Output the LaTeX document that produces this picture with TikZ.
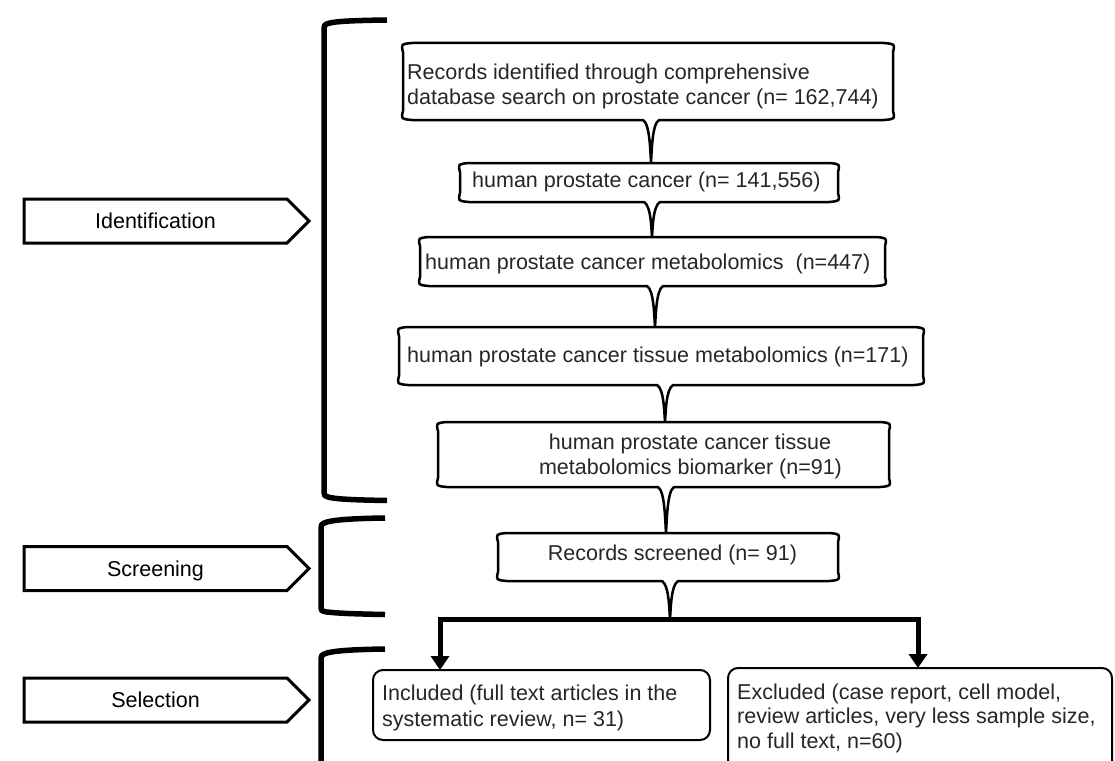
\documentclass[tikz,border=0pt]{standalone}
\usepackage{fontspec}
\setmainfont{Liberation Sans}
\usetikzlibrary{arrows.meta,shapes.symbols}
\newcommand\mycallout[6]{%
\draw[cbox] (#1,#2+9) .. controls (#1-2,#2+1) .. (#1+9,#2) -- (#3-9,#2) .. controls (#3+2,#2+1) .. (#3,#2+9) -- (#3,#4-9) .. controls (#3+2,#4-1) .. (#3-9,#4) -- (#5+8,#4) .. controls (#5+1,#4+4) and (#5+0.8,#6-10) .. (#5,#6) .. controls (#5-0.8,#6-10) and (#5-1,#4+4) .. (#5-8,#4) -- (#1+9,#4) .. controls (#1-2,#4-1) .. (#1,#4-9) -- cycle;}
\begin{document}
\begin{tikzpicture}[x=1pt,y=-1pt,
  cbox/.style={draw=black, line width=2.5pt, fill=white, line join=round},
  fbox/.style={draw=black, line width=2pt, rounded corners=10pt, fill=white},
  brk/.style={draw=black, line width=5.5pt, line cap=butt},
  lbl/.style={signal, signal to=east, signal from=nowhere, signal pointer angle=90,
    draw=black, line width=3pt, minimum width=285pt, minimum height=44pt, inner sep=0pt,
    font=\fontsize{21.5}{25}\selectfont, text height=15.5pt, text depth=0pt},
  txt/.style={inner sep=0pt, font=\fontsize{21.5}{25}\selectfont, text=black!85},
  flow/.style={draw=black, line width=5pt, -{Triangle[width=18pt,length=14pt]}}]
\useasboundingbox (0,0) rectangle (1115,760);
\fill[white] (0,0) rectangle (1115,760);
% brackets
\draw[brk] (387,20) .. controls (350,20.5) and (336,21.5) .. (330,23) .. controls (324,24.5) .. (324,33) -- (324,488) .. controls (324,496) .. (330,497.5) .. controls (340,499.5) and (360,500) .. (387,500.5);
\draw[brk] (385,518) .. controls (350,518.5) and (334,520) .. (327,522) .. controls (321,524) .. (321,532) -- (321,604) .. controls (321,611) .. (327,612) .. controls (340,613.5) and (360,614) .. (385,614.5);
\draw[brk] (385,649) .. controls (350,649.5) and (334,651) .. (327,653) .. controls (321,655) .. (321,663) -- (321,780);
% stage labels
\node[lbl] (ident) at (155.5,221) {Identification};
\node[lbl] (screen) at (155.5,568.5) {Screening};
\node[lbl] (select) at (155.5,700) {Selection};
% callout boxes
\mycallout{403}{43}{893}{120}{651}{162}
\mycallout{460}{163}{838}{202}{652}{237}
\mycallout{420}{237}{885}{286}{655}{327}
\mycallout{399}{327}{923}{385}{665}{422}
\mycallout{438}{422}{889}{487}{666}{533}
\mycallout{498}{533}{838}{581}{670}{619}
% texts
\node[txt, anchor=base west] (t1a) at (407,79) {Records identified through comprehensive};
\node[txt, anchor=base west] (t1b) at (407,104) {database search on prostate cancer (n= 162,744)};
\node[txt, anchor=base west] (t2) at (472,187) {human prostate cancer (n= 141,556)};
\node[txt, anchor=base west] (t3) at (425,269) {human prostate cancer metabolomics~ (n=447)};
\node[txt, anchor=base west] (t4) at (407,362) {human prostate cancer tissue metabolomics (n=171)};
\node[txt, anchor=base] (t5a) at (690,449) {human prostate cancer tissue};
\node[txt, anchor=base] (t5b) at (690.5,474) {metabolomics biomarker (n=91)};
\node[txt, anchor=base] (t6) at (672.5,560) {Records screened (n= 91)};
% result boxes
\draw[fbox] (373,670) rectangle (710,740);
\draw[fbox] (728,668) rectangle (1112,800);
\node[txt, anchor=base west] (inca) at (382,700) {Included (full text articles in the};
\node[txt, anchor=base west] (incb) at (382,726) {systematic review, n= 31)};
\node[txt, anchor=base west] (exca) at (737,699) {Excluded (case report, cell model,};
\node[txt, anchor=base west] (excb) at (737,723.5) {review articles, very less sample size,};
\node[txt, anchor=base west] (excc) at (737,748.5) {no full text, n=60)};
% flow split
\coordinate (split) at (670,619);
\coordinate (incin) at (440,670);
\coordinate (excin) at (918,668);
\draw[flow] (split) -| (incin);
\draw[flow] (split) -| (excin);
\end{tikzpicture}
\end{document}
